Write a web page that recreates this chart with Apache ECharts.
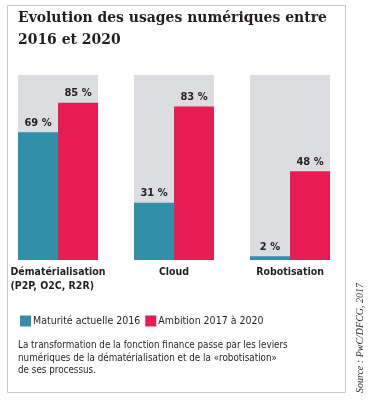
<!DOCTYPE html>
<html><head><meta charset="utf-8">
<script src="https://cdn.jsdelivr.net/npm/echarts@6/dist/echarts.min.js"></script>
<style>html,body{margin:0;padding:0;background:#fff}#c{width:372px;height:405px}</style>
</head><body><div id="c"></div>
<script>
const categories = ['Dématérialisation\n(P2P, O2C, R2R)', 'Cloud', 'Robotisation'];
const maturite2016 = [69, 31, 2];
const ambition2020 = [85, 83, 48];
const seriesNames = ['Maturité actuelle 2016', 'Ambition 2017 à 2020'];
const titleText = 'Evolution des usages numériques entre\n2016 et 2020';
const noteText = 'La transformation de la fonction finance passe par les leviers\nnumériques de la dématérialisation et de la «robotisation»\nde ses processus.';
const sourceText = 'Source : PwC/DFCG, 2017';

const NARROW = '"DejaVu Sans Condensed", "Liberation Sans Narrow", sans-serif';
const DARK = '#231f20';
const chart = echarts.init(document.getElementById('c'), null, {renderer: 'canvas'});
const labelCfg = {
  show: true, position: 'top', distance: 4,
  formatter: p => p.value + ' %',
  fontFamily: NARROW, fontWeight: 'bold', fontSize: 11, color: DARK
};
chart.setOption({
  animation: false,
  title: {
    text: titleText, left: 18, top: 7, padding: 0,
    textStyle: {fontFamily: '"DejaVu Serif Condensed", "DejaVu Serif", serif', fontWeight: 'bold', fontSize: 15.5, lineHeight: 22, color: DARK}
  },
  grid: {left: 0, right: 24, top: 75, bottom: 145, containLabel: false},
  xAxis: {
    type: 'category', data: categories,
    axisLine: {show: false}, axisTick: {show: false},
    axisLabel: {
      margin: 5, interval: 0,
      formatter: v => v.split('\n').map(s => '{l|' + s + '}').join('\n'),
      rich: {l: {align: 'left', fontFamily: NARROW, fontWeight: 'bold', fontSize: 10.5, lineHeight: 14, color: DARK}}
    }
  },
  yAxis: {type: 'value', min: 0, max: 100, show: false, splitLine: {show: false}},
  legend: {
    left: 20, top: 315.5, padding: 0, itemWidth: 11, itemHeight: 11, itemGap: 5, icon: 'rect',
    textStyle: {fontFamily: NARROW, fontSize: 10.5, color: DARK, padding: [0, 0, 0, -3]},
    data: seriesNames
  },
  series: [
    {name: seriesNames[0], type: 'bar', data: maturite2016, barGap: '0%', barCategoryGap: '31%',
     itemStyle: {color: '#318fa8'}, showBackground: true, backgroundStyle: {color: '#dcdde0'}, label: labelCfg},
    {name: seriesNames[1], type: 'bar', data: ambition2020,
     itemStyle: {color: '#e81d53'}, showBackground: true, backgroundStyle: {color: '#dcdde0'}, label: labelCfg}
  ],
  graphic: [
    {type: 'rect', shape: {x: 7.5, y: 5.5, width: 338, height: 387}, style: {fill: 'none', stroke: '#c8c8c8', lineWidth: 1}, z: -1},
    {type: 'text', x: 18, y: 339, scaleX: 0.89, style: {text: noteText, fontFamily: NARROW, fontSize: 11, lineHeight: 12.5, fill: DARK}},
    {type: 'text', x: 360, y: 338, rotation: Math.PI / 2,
     style: {text: sourceText, align: 'center', verticalAlign: 'middle', fontFamily: '"Liberation Serif", serif', fontStyle: 'italic', fontSize: 10, fill: '#333'}}
  ]
});
</script></body></html>
